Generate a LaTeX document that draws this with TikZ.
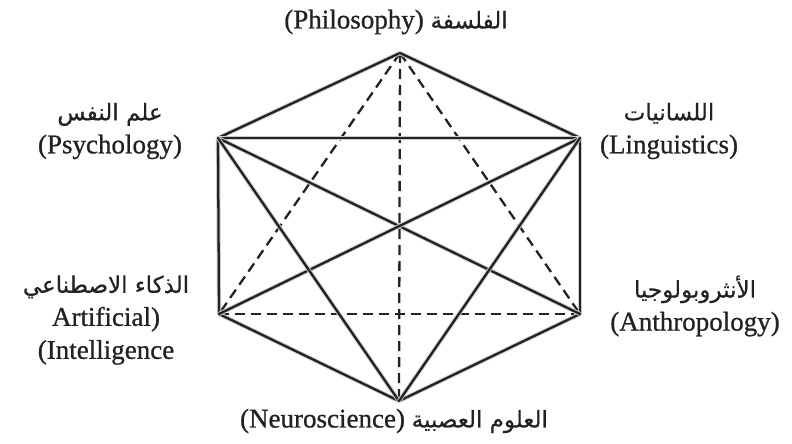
\documentclass[tikz,border=0pt]{standalone}
\usepackage{fontspec}
\setmainfont{Liberation Serif}[RawFeature={embolden=0.8}]
\newfontfamily\arabicfont[Script=Arabic,RawFeature={embolden=0.5}]{DejaVu Sans}
\TeXXeTstate=1
\definecolor{ink}{HTML}{222222}
\newcommand\arb[1]{{\arabicfont\fontsize{23}{33}\selectfont\beginR #1\endR}}
\begin{document}
\begin{tikzpicture}[x=1pt,y=-1pt,
  edge/.style={draw=ink,line width=2.3pt,line cap=round,preaction={draw=black!20,line width=4.2pt}},
  dedge/.style={draw=ink,line width=2.3pt,dash pattern=on 10pt off 6pt},
  lbl/.style={text=ink,align=center,inner sep=0pt,font=\fontsize{27}{33}\selectfont}]
\useasboundingbox[fill=white] (0,0) rectangle (792,444);
\coordinate (T) at (400,53);
\coordinate (UL) at (218,138);
\coordinate (UR) at (580,138);
\coordinate (LL) at (219,314);
\coordinate (LR) at (580,314);
\coordinate (B) at (399,401);
% dashed
\draw[dedge] (T) -- (LL);
\draw[dedge] (T) -- (LR);
\draw[dedge] (T) -- (B);
\draw[dedge] (LL) -- (LR);
% solid
\draw[edge] (T) -- (UL);
\draw[edge] (T) -- (UR);
\draw[edge] (UL) -- (UR);
\draw[edge] (UL) -- (LL);
\draw[edge] (UR) -- (LR);
\draw[edge] (LL) -- (B);
\draw[edge] (LR) -- (B);
\draw[edge] (UL) -- (LR);
\draw[edge] (UR) -- (LL);
\draw[edge] (UL) -- (B);
\draw[edge] (UR) -- (B);
% labels
\node[lbl] (phil) at (396,22) {(Philosophy) \arb{الفلسفة}};
\node[lbl] (psy) at (110,131) {\arb{علم النفس}\\(Psychology)};
\node[lbl] (lin) at (669,131) {\arb{اللسانيات}\\(Linguistics)};
\node[lbl] (ai) at (106,320) {\arb{الذكاء الاصطناعي}\\Artificial)\\(Intelligence};
\node[lbl] (ant) at (695,306) {\arb{الأنثروبولوجيا}\\(Anthropology)};
\node[lbl] (neu) at (394,421) {(Neuroscience) \arb{العلوم العصبية}};
\end{tikzpicture}
\end{document}
